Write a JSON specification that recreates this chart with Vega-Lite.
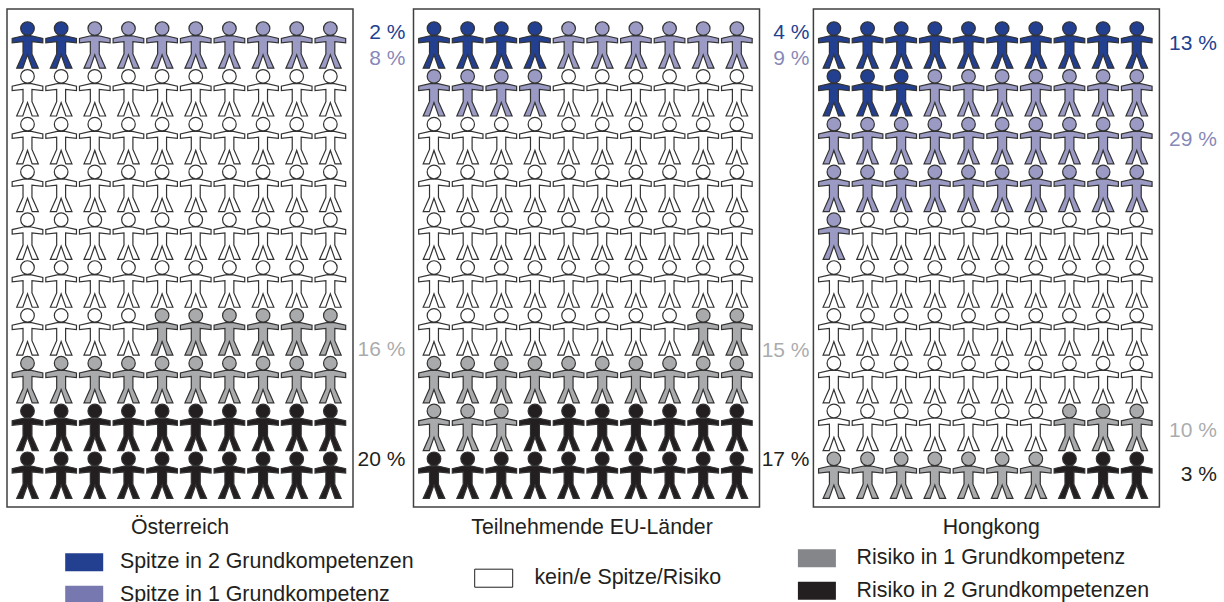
{"$schema":"https://vega.github.io/schema/vega-lite/v6.json","background":"white","padding":{"left":6,"top":8,"right":0,"bottom":0},"bounds":"flush","spacing":53.7,"config":{"view":{"stroke":"#404040","strokeWidth":1.5,"fill":"white"},"font":"Liberation Sans","axis":{"domain":false,"ticks":false,"labels":false,"grid":false,"titleFont":"Liberation Sans","titleFontSize":21.3,"titleFontWeight":"normal","titleColor":"#231f20","titleBaseline":"alphabetic","titleAlign":"center","titleY":26},"legend":{"padding":0,"labelFont":"Liberation Sans","labelFontSize":21.4,"labelColor":"#231f20","labelLimit":400,"symbolType":"M-2,-0.95H2V0.95H-2Z","symbolSize":361,"labelOffset":25,"rowPadding":9.6,"symbolStrokeWidth":0,"symbolOpacity":1,"title":null}},"datasets":{"at":[{"c":1,"r":1,"k":"S2"},{"c":2,"r":1,"k":"S2"},{"c":3,"r":1,"k":"S1"},{"c":4,"r":1,"k":"S1"},{"c":5,"r":1,"k":"S1"},{"c":6,"r":1,"k":"S1"},{"c":7,"r":1,"k":"S1"},{"c":8,"r":1,"k":"S1"},{"c":9,"r":1,"k":"S1"},{"c":10,"r":1,"k":"S1"},{"c":1,"r":2,"k":"N"},{"c":2,"r":2,"k":"N"},{"c":3,"r":2,"k":"N"},{"c":4,"r":2,"k":"N"},{"c":5,"r":2,"k":"N"},{"c":6,"r":2,"k":"N"},{"c":7,"r":2,"k":"N"},{"c":8,"r":2,"k":"N"},{"c":9,"r":2,"k":"N"},{"c":10,"r":2,"k":"N"},{"c":1,"r":3,"k":"N"},{"c":2,"r":3,"k":"N"},{"c":3,"r":3,"k":"N"},{"c":4,"r":3,"k":"N"},{"c":5,"r":3,"k":"N"},{"c":6,"r":3,"k":"N"},{"c":7,"r":3,"k":"N"},{"c":8,"r":3,"k":"N"},{"c":9,"r":3,"k":"N"},{"c":10,"r":3,"k":"N"},{"c":1,"r":4,"k":"N"},{"c":2,"r":4,"k":"N"},{"c":3,"r":4,"k":"N"},{"c":4,"r":4,"k":"N"},{"c":5,"r":4,"k":"N"},{"c":6,"r":4,"k":"N"},{"c":7,"r":4,"k":"N"},{"c":8,"r":4,"k":"N"},{"c":9,"r":4,"k":"N"},{"c":10,"r":4,"k":"N"},{"c":1,"r":5,"k":"N"},{"c":2,"r":5,"k":"N"},{"c":3,"r":5,"k":"N"},{"c":4,"r":5,"k":"N"},{"c":5,"r":5,"k":"N"},{"c":6,"r":5,"k":"N"},{"c":7,"r":5,"k":"N"},{"c":8,"r":5,"k":"N"},{"c":9,"r":5,"k":"N"},{"c":10,"r":5,"k":"N"},{"c":1,"r":6,"k":"N"},{"c":2,"r":6,"k":"N"},{"c":3,"r":6,"k":"N"},{"c":4,"r":6,"k":"N"},{"c":5,"r":6,"k":"N"},{"c":6,"r":6,"k":"N"},{"c":7,"r":6,"k":"N"},{"c":8,"r":6,"k":"N"},{"c":9,"r":6,"k":"N"},{"c":10,"r":6,"k":"N"},{"c":1,"r":7,"k":"N"},{"c":2,"r":7,"k":"N"},{"c":3,"r":7,"k":"N"},{"c":4,"r":7,"k":"N"},{"c":5,"r":7,"k":"R1"},{"c":6,"r":7,"k":"R1"},{"c":7,"r":7,"k":"R1"},{"c":8,"r":7,"k":"R1"},{"c":9,"r":7,"k":"R1"},{"c":10,"r":7,"k":"R1"},{"c":1,"r":8,"k":"R1"},{"c":2,"r":8,"k":"R1"},{"c":3,"r":8,"k":"R1"},{"c":4,"r":8,"k":"R1"},{"c":5,"r":8,"k":"R1"},{"c":6,"r":8,"k":"R1"},{"c":7,"r":8,"k":"R1"},{"c":8,"r":8,"k":"R1"},{"c":9,"r":8,"k":"R1"},{"c":10,"r":8,"k":"R1"},{"c":1,"r":9,"k":"R2"},{"c":2,"r":9,"k":"R2"},{"c":3,"r":9,"k":"R2"},{"c":4,"r":9,"k":"R2"},{"c":5,"r":9,"k":"R2"},{"c":6,"r":9,"k":"R2"},{"c":7,"r":9,"k":"R2"},{"c":8,"r":9,"k":"R2"},{"c":9,"r":9,"k":"R2"},{"c":10,"r":9,"k":"R2"},{"c":1,"r":10,"k":"R2"},{"c":2,"r":10,"k":"R2"},{"c":3,"r":10,"k":"R2"},{"c":4,"r":10,"k":"R2"},{"c":5,"r":10,"k":"R2"},{"c":6,"r":10,"k":"R2"},{"c":7,"r":10,"k":"R2"},{"c":8,"r":10,"k":"R2"},{"c":9,"r":10,"k":"R2"},{"c":10,"r":10,"k":"R2"}],"eu":[{"c":1,"r":1,"k":"S2"},{"c":2,"r":1,"k":"S2"},{"c":3,"r":1,"k":"S2"},{"c":4,"r":1,"k":"S2"},{"c":5,"r":1,"k":"S1"},{"c":6,"r":1,"k":"S1"},{"c":7,"r":1,"k":"S1"},{"c":8,"r":1,"k":"S1"},{"c":9,"r":1,"k":"S1"},{"c":10,"r":1,"k":"S1"},{"c":1,"r":2,"k":"S1"},{"c":2,"r":2,"k":"S1"},{"c":3,"r":2,"k":"S1"},{"c":4,"r":2,"k":"S1"},{"c":5,"r":2,"k":"N"},{"c":6,"r":2,"k":"N"},{"c":7,"r":2,"k":"N"},{"c":8,"r":2,"k":"N"},{"c":9,"r":2,"k":"N"},{"c":10,"r":2,"k":"N"},{"c":1,"r":3,"k":"N"},{"c":2,"r":3,"k":"N"},{"c":3,"r":3,"k":"N"},{"c":4,"r":3,"k":"N"},{"c":5,"r":3,"k":"N"},{"c":6,"r":3,"k":"N"},{"c":7,"r":3,"k":"N"},{"c":8,"r":3,"k":"N"},{"c":9,"r":3,"k":"N"},{"c":10,"r":3,"k":"N"},{"c":1,"r":4,"k":"N"},{"c":2,"r":4,"k":"N"},{"c":3,"r":4,"k":"N"},{"c":4,"r":4,"k":"N"},{"c":5,"r":4,"k":"N"},{"c":6,"r":4,"k":"N"},{"c":7,"r":4,"k":"N"},{"c":8,"r":4,"k":"N"},{"c":9,"r":4,"k":"N"},{"c":10,"r":4,"k":"N"},{"c":1,"r":5,"k":"N"},{"c":2,"r":5,"k":"N"},{"c":3,"r":5,"k":"N"},{"c":4,"r":5,"k":"N"},{"c":5,"r":5,"k":"N"},{"c":6,"r":5,"k":"N"},{"c":7,"r":5,"k":"N"},{"c":8,"r":5,"k":"N"},{"c":9,"r":5,"k":"N"},{"c":10,"r":5,"k":"N"},{"c":1,"r":6,"k":"N"},{"c":2,"r":6,"k":"N"},{"c":3,"r":6,"k":"N"},{"c":4,"r":6,"k":"N"},{"c":5,"r":6,"k":"N"},{"c":6,"r":6,"k":"N"},{"c":7,"r":6,"k":"N"},{"c":8,"r":6,"k":"N"},{"c":9,"r":6,"k":"N"},{"c":10,"r":6,"k":"N"},{"c":1,"r":7,"k":"N"},{"c":2,"r":7,"k":"N"},{"c":3,"r":7,"k":"N"},{"c":4,"r":7,"k":"N"},{"c":5,"r":7,"k":"N"},{"c":6,"r":7,"k":"N"},{"c":7,"r":7,"k":"N"},{"c":8,"r":7,"k":"N"},{"c":9,"r":7,"k":"R1"},{"c":10,"r":7,"k":"R1"},{"c":1,"r":8,"k":"R1"},{"c":2,"r":8,"k":"R1"},{"c":3,"r":8,"k":"R1"},{"c":4,"r":8,"k":"R1"},{"c":5,"r":8,"k":"R1"},{"c":6,"r":8,"k":"R1"},{"c":7,"r":8,"k":"R1"},{"c":8,"r":8,"k":"R1"},{"c":9,"r":8,"k":"R1"},{"c":10,"r":8,"k":"R1"},{"c":1,"r":9,"k":"R1"},{"c":2,"r":9,"k":"R1"},{"c":3,"r":9,"k":"R1"},{"c":4,"r":9,"k":"R2"},{"c":5,"r":9,"k":"R2"},{"c":6,"r":9,"k":"R2"},{"c":7,"r":9,"k":"R2"},{"c":8,"r":9,"k":"R2"},{"c":9,"r":9,"k":"R2"},{"c":10,"r":9,"k":"R2"},{"c":1,"r":10,"k":"R2"},{"c":2,"r":10,"k":"R2"},{"c":3,"r":10,"k":"R2"},{"c":4,"r":10,"k":"R2"},{"c":5,"r":10,"k":"R2"},{"c":6,"r":10,"k":"R2"},{"c":7,"r":10,"k":"R2"},{"c":8,"r":10,"k":"R2"},{"c":9,"r":10,"k":"R2"},{"c":10,"r":10,"k":"R2"}],"hk":[{"c":1,"r":1,"k":"S2"},{"c":2,"r":1,"k":"S2"},{"c":3,"r":1,"k":"S2"},{"c":4,"r":1,"k":"S2"},{"c":5,"r":1,"k":"S2"},{"c":6,"r":1,"k":"S2"},{"c":7,"r":1,"k":"S2"},{"c":8,"r":1,"k":"S2"},{"c":9,"r":1,"k":"S2"},{"c":10,"r":1,"k":"S2"},{"c":1,"r":2,"k":"S2"},{"c":2,"r":2,"k":"S2"},{"c":3,"r":2,"k":"S2"},{"c":4,"r":2,"k":"S1"},{"c":5,"r":2,"k":"S1"},{"c":6,"r":2,"k":"S1"},{"c":7,"r":2,"k":"S1"},{"c":8,"r":2,"k":"S1"},{"c":9,"r":2,"k":"S1"},{"c":10,"r":2,"k":"S1"},{"c":1,"r":3,"k":"S1"},{"c":2,"r":3,"k":"S1"},{"c":3,"r":3,"k":"S1"},{"c":4,"r":3,"k":"S1"},{"c":5,"r":3,"k":"S1"},{"c":6,"r":3,"k":"S1"},{"c":7,"r":3,"k":"S1"},{"c":8,"r":3,"k":"S1"},{"c":9,"r":3,"k":"S1"},{"c":10,"r":3,"k":"S1"},{"c":1,"r":4,"k":"S1"},{"c":2,"r":4,"k":"S1"},{"c":3,"r":4,"k":"S1"},{"c":4,"r":4,"k":"S1"},{"c":5,"r":4,"k":"S1"},{"c":6,"r":4,"k":"S1"},{"c":7,"r":4,"k":"S1"},{"c":8,"r":4,"k":"S1"},{"c":9,"r":4,"k":"S1"},{"c":10,"r":4,"k":"S1"},{"c":1,"r":5,"k":"S1"},{"c":2,"r":5,"k":"N"},{"c":3,"r":5,"k":"N"},{"c":4,"r":5,"k":"N"},{"c":5,"r":5,"k":"N"},{"c":6,"r":5,"k":"N"},{"c":7,"r":5,"k":"N"},{"c":8,"r":5,"k":"N"},{"c":9,"r":5,"k":"N"},{"c":10,"r":5,"k":"N"},{"c":1,"r":6,"k":"N"},{"c":2,"r":6,"k":"N"},{"c":3,"r":6,"k":"N"},{"c":4,"r":6,"k":"N"},{"c":5,"r":6,"k":"N"},{"c":6,"r":6,"k":"N"},{"c":7,"r":6,"k":"N"},{"c":8,"r":6,"k":"N"},{"c":9,"r":6,"k":"N"},{"c":10,"r":6,"k":"N"},{"c":1,"r":7,"k":"N"},{"c":2,"r":7,"k":"N"},{"c":3,"r":7,"k":"N"},{"c":4,"r":7,"k":"N"},{"c":5,"r":7,"k":"N"},{"c":6,"r":7,"k":"N"},{"c":7,"r":7,"k":"N"},{"c":8,"r":7,"k":"N"},{"c":9,"r":7,"k":"N"},{"c":10,"r":7,"k":"N"},{"c":1,"r":8,"k":"N"},{"c":2,"r":8,"k":"N"},{"c":3,"r":8,"k":"N"},{"c":4,"r":8,"k":"N"},{"c":5,"r":8,"k":"N"},{"c":6,"r":8,"k":"N"},{"c":7,"r":8,"k":"N"},{"c":8,"r":8,"k":"N"},{"c":9,"r":8,"k":"N"},{"c":10,"r":8,"k":"N"},{"c":1,"r":9,"k":"N"},{"c":2,"r":9,"k":"N"},{"c":3,"r":9,"k":"N"},{"c":4,"r":9,"k":"N"},{"c":5,"r":9,"k":"N"},{"c":6,"r":9,"k":"N"},{"c":7,"r":9,"k":"N"},{"c":8,"r":9,"k":"R1"},{"c":9,"r":9,"k":"R1"},{"c":10,"r":9,"k":"R1"},{"c":1,"r":10,"k":"R1"},{"c":2,"r":10,"k":"R1"},{"c":3,"r":10,"k":"R1"},{"c":4,"r":10,"k":"R1"},{"c":5,"r":10,"k":"R1"},{"c":6,"r":10,"k":"R1"},{"c":7,"r":10,"k":"R1"},{"c":8,"r":10,"k":"R2"},{"c":9,"r":10,"k":"R2"},{"c":10,"r":10,"k":"R2"}]},"resolve":{"scale":{"fill":"independent"},"legend":{"fill":"independent"}},"hconcat":[{"width":346,"height":498,"encoding":{"fill":{"field":"k","type":"nominal","scale":{"domain":["S2","S1","N","R1","R2"],"range":["#233f8f","#7878b0","#ffffff","#848689","#231f20"]},"legend":{"orient":"none","legendX":66.5,"legendY":542.5,"values":["S2","S1"],"labelExpr":"{S2:'Spitze in 2 Grundkompetenzen',S1:'Spitze in 1 Grundkompetenz'}[datum.value]"}},"fillOpacity":{"condition":[{"test":"datum.k==='S1'","value":0.75},{"test":"datum.k==='R1'","value":0.7}],"value":1}},"layer":[{"data":{"name":"at"},"mark":{"type":"point","filled":true,"opacity":1,"size":2209,"stroke":"#333333","strokeWidth":1.2,"shape":"M-0.17,-0.38L-0.652,-0.27L-0.652,-0.08L-0.19,-0.13L-0.19,0.39L-0.46,1L-0.2,1L0,0.43L0.2,1L0.46,1L0.19,0.39L0.19,-0.13L0.652,-0.08L0.652,-0.27L0.17,-0.38ZM-0.29,-0.688A0.29,0.29 0 1,1 0.29,-0.688A0.29,0.29 0 1,1 -0.29,-0.688Z"},"encoding":{"x":{"field":"c","type":"quantitative","axis":{"title":"Österreich","titleX":172.5},"scale":{"domain":[0.391,10.673],"zero":false,"nice":false}},"y":{"field":"r","type":"quantitative","axis":null,"scale":{"domain":[0.253,10.67],"zero":false,"nice":false,"reverse":true}}}},{"data":{"values":[{"t":"2 %","r":0.75,"k":"S2"},{"t":"8 %","r":1.29,"k":"S1"},{"t":"16 %","r":7.38,"k":"R1"},{"t":"20 %","r":9.68,"k":"R2"}]},"mark":{"type":"text","align":"right","baseline":"middle","fontSize":21,"font":"Liberation Sans"},"encoding":{"text":{"field":"t"},"fillOpacity":{"condition":[{"test":"datum.k==='S1'","value":0.9},{"test":"datum.k==='R1'","value":0.7}],"value":1},"x":{"datum":12.23,"type":"quantitative"},"y":{"field":"r","type":"quantitative"}}}]},{"width":352.8,"height":498,"view":{"stroke":null,"fill":null},"encoding":{"fill":{"field":"k","type":"nominal","scale":{"domain":["S2","S1","N","R1","R2"],"range":["#233f8f","#7878b0","#ffffff","#848689","#231f20"]},"legend":{"orient":"none","legendX":76.3,"legendY":558.5,"values":["N"],"labelOffset":30,"symbolStrokeColor":"#231f20","symbolStrokeWidth":1,"labelExpr":"{N:'kein/e Spitze/Risiko'}[datum.value]"}},"fillOpacity":{"condition":[{"test":"datum.k==='S1'","value":0.75},{"test":"datum.k==='R1'","value":0.7}],"value":1}},"layer":[{"data":{"values":[{"k":"N"}]},"mark":{"type":"rect","stroke":"#404040","strokeWidth":1.5},"encoding":{"x":{"datum":0.391,"type":"quantitative","axis":{"title":"Teilnehmende EU-Länder","titleX":184.8},"scale":{"domain":[0.189,10.673],"zero":false,"nice":false}},"x2":{"datum":10.673},"y":{"datum":0.253,"type":"quantitative","axis":null,"scale":{"domain":[0.253,10.67],"zero":false,"nice":false,"reverse":true}},"y2":{"datum":10.67}}},{"data":{"name":"eu"},"mark":{"type":"point","filled":true,"opacity":1,"size":2209,"stroke":"#333333","strokeWidth":1.2,"shape":"M-0.17,-0.38L-0.652,-0.27L-0.652,-0.08L-0.19,-0.13L-0.19,0.39L-0.46,1L-0.2,1L0,0.43L0.2,1L0.46,1L0.19,0.39L0.19,-0.13L0.652,-0.08L0.652,-0.27L0.17,-0.38ZM-0.29,-0.688A0.29,0.29 0 1,1 0.29,-0.688A0.29,0.29 0 1,1 -0.29,-0.688Z"},"encoding":{"x":{"field":"c","type":"quantitative"},"y":{"field":"r","type":"quantitative"}}},{"data":{"values":[{"t":"4 %","r":0.75,"k":"S2"},{"t":"9 %","r":1.29,"k":"S1"},{"t":"15 %","r":7.4,"k":"R1"},{"t":"17 %","r":9.68,"k":"R2"}]},"mark":{"type":"text","align":"right","baseline":"middle","fontSize":21,"font":"Liberation Sans"},"encoding":{"text":{"field":"t"},"fillOpacity":{"condition":[{"test":"datum.k==='S1'","value":0.9},{"test":"datum.k==='R1'","value":0.7}],"value":1},"x":{"datum":12.16,"type":"quantitative"},"y":{"field":"r","type":"quantitative"}}}]},{"width":346,"height":498,"encoding":{"fill":{"field":"k","type":"nominal","scale":{"domain":["S2","S1","N","R1","R2"],"range":["#233f8f","#7878b0","#ffffff","#848689","#231f20"]},"legend":{"orient":"none","legendX":-7.2,"legendY":538.5,"values":["R1","R2"],"labelOffset":29,"labelExpr":"{R1:'Risiko in 1 Grundkompetenz',R2:'Risiko in 2 Grundkompetenzen'}[datum.value]"}},"fillOpacity":{"condition":[{"test":"datum.k==='S1'","value":0.75},{"test":"datum.k==='R1'","value":0.7}],"value":1}},"layer":[{"data":{"name":"hk"},"mark":{"type":"point","filled":true,"opacity":1,"size":2209,"stroke":"#333333","strokeWidth":1.2,"shape":"M-0.17,-0.38L-0.652,-0.27L-0.652,-0.08L-0.19,-0.13L-0.19,0.39L-0.46,1L-0.2,1L0,0.43L0.2,1L0.46,1L0.19,0.39L0.19,-0.13L0.652,-0.08L0.652,-0.27L0.17,-0.38ZM-0.29,-0.688A0.29,0.29 0 1,1 0.29,-0.688A0.29,0.29 0 1,1 -0.29,-0.688Z"},"encoding":{"x":{"field":"c","type":"quantitative","axis":{"title":"Hongkong","titleX":177.3},"scale":{"domain":[0.391,10.673],"zero":false,"nice":false}},"y":{"field":"r","type":"quantitative","axis":null,"scale":{"domain":[0.253,10.67],"zero":false,"nice":false,"reverse":true}}}},{"data":{"values":[{"t":"13 %","r":0.98,"k":"S2"},{"t":"29 %","r":3.0,"k":"S1"},{"t":"10 %","r":9.07,"k":"R1"},{"t":"3 %","r":10,"k":"R2"}]},"mark":{"type":"text","align":"right","baseline":"middle","fontSize":21,"font":"Liberation Sans"},"encoding":{"text":{"field":"t"},"fillOpacity":{"condition":[{"test":"datum.k==='S1'","value":0.9},{"test":"datum.k==='R1'","value":0.7}],"value":1},"x":{"datum":12.38,"type":"quantitative"},"y":{"field":"r","type":"quantitative"}}}]}]}
